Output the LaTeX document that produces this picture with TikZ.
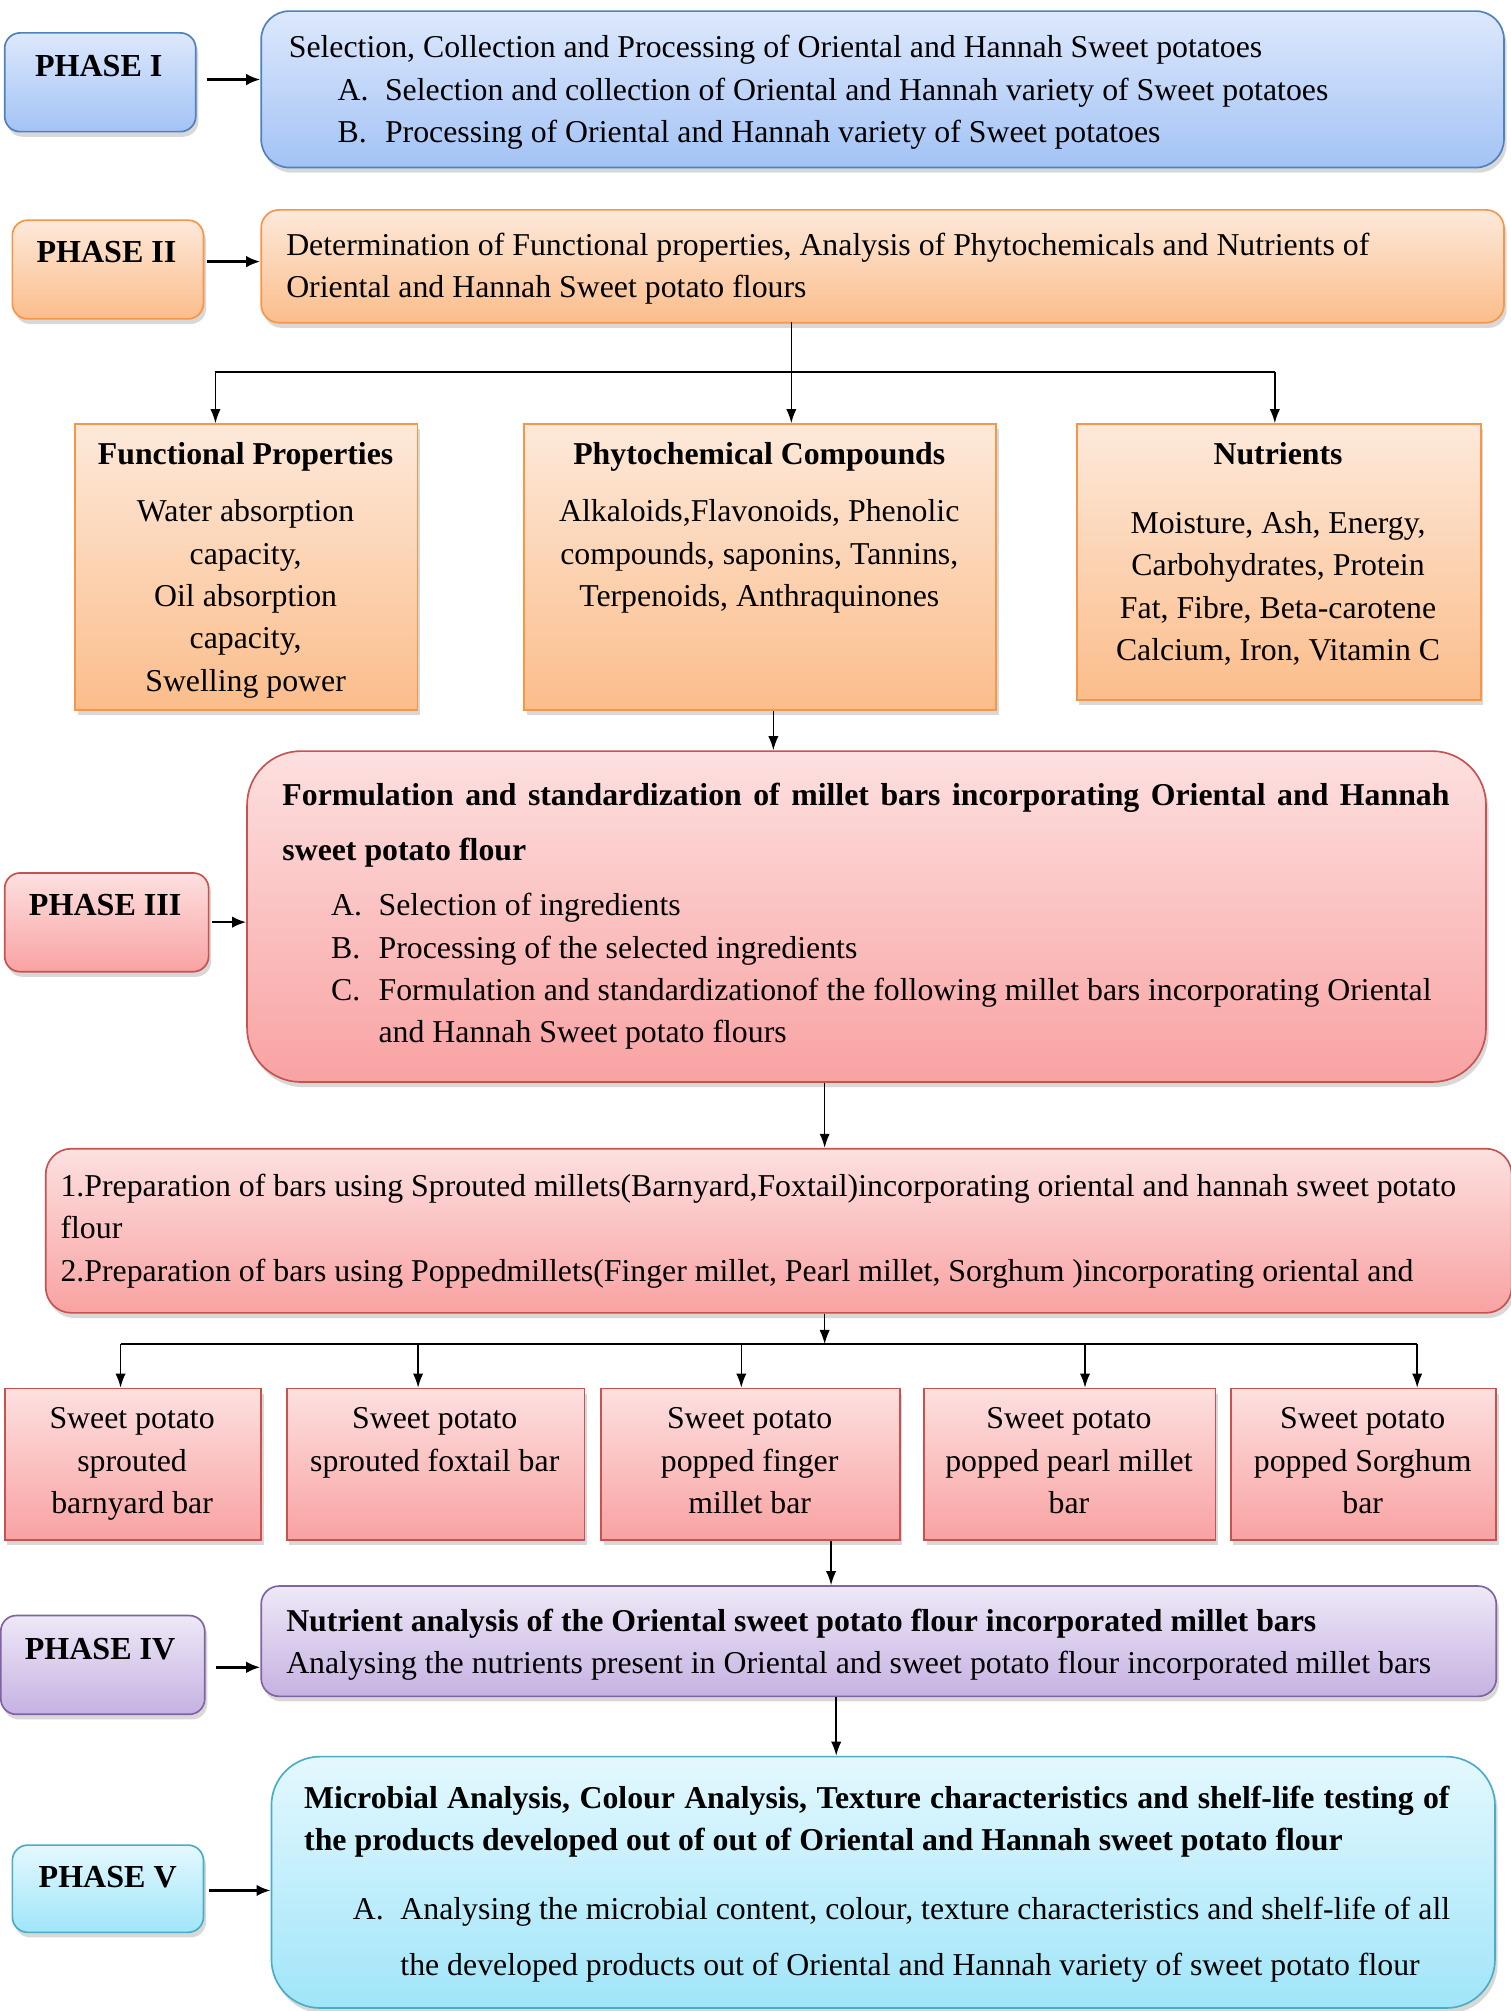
\documentclass[tikz,border=0pt]{standalone}
\usepackage{fontspec}
\setmainfont{Liberation Serif}
\usetikzlibrary{shadows,arrows.meta}
\definecolor{bluetop}{HTML}{DDE8FC}
\definecolor{bluebot}{HTML}{A3C3F5}
\definecolor{blueline}{HTML}{4F81BD}
\definecolor{ortop}{HTML}{FDE9DA}
\definecolor{orbot}{HTML}{FBBD8B}
\definecolor{orline}{HTML}{F79646}
\definecolor{redtop}{HTML}{FDE0E0}
\definecolor{redbot}{HTML}{F9A2A2}
\definecolor{redline}{HTML}{C85250}
\definecolor{purtop}{HTML}{EEE8F7}
\definecolor{purbot}{HTML}{C6B2E2}
\definecolor{purline}{HTML}{8064A2}
\definecolor{cyantop}{HTML}{E4F8FE}
\definecolor{cyanbot}{HTML}{A0E5F9}
\definecolor{cyanline}{HTML}{4BACC6}
\newcommand\bodysize{\fontsize{24.8}{30}\selectfont}
\tikzset{
  boxbase/.style={rectangle, anchor=north west, inner sep=0pt, line width=1.3pt,
    drop shadow={opacity=0.3, shadow xshift=2pt, shadow yshift=-4pt}},
  bluebox/.style={boxbase, draw=blueline, top color=bluetop, bottom color=bluebot},
  orbox/.style={boxbase, draw=orline, top color=ortop, bottom color=orbot},
  redbox/.style={boxbase, draw=redline, top color=redtop, bottom color=redbot},
  purbox/.style={boxbase, draw=purline, top color=purtop, bottom color=purbot},
  cyanbox/.style={boxbase, draw=cyanline, top color=cyantop, bottom color=cyanbot},
  tl/.style={inner sep=0pt, anchor=base west, font=\bodysize},
  tc/.style={inner sep=0pt, anchor=base, font=\bodysize},
  tlb/.style={tl, font=\bodysize\bfseries},
  tcb/.style={tc, font=\bodysize\bfseries},
  phlbl/.style={inner sep=0pt, anchor=base, font=\fontsize{25}{30}\selectfont\bfseries},
  conn/.style={line width=1.2pt, -{Latex[length=11pt,width=8pt]}},
  phconn/.style={line width=2pt, -{Latex[length=11pt,width=9pt]}},
  plain/.style={line width=1.2pt}
}
\begin{document}
\begin{tikzpicture}[x=1pt,y=-1pt]
\useasboundingbox (0,0) rectangle (1178,1568);
\fill[white] (0,0) rectangle (1178,1568);

% ---------- Phase I
\node[bluebox, rounded corners=12pt, minimum width=149pt, minimum height=77pt] (ph1) at (3,25) {};
\node[phlbl] (ph1t) at (77,60) {PHASE I};
\node[bluebox, rounded corners=22pt, minimum width=969pt, minimum height=122pt] (c1) at (203,8) {};
\node[tl] (c1a) at (225,45) {Selection, Collection and Processing of Oriental and Hannah Sweet potatoes};
\node[tl] (c1b) at (263,78) {A.};
\node[tl] (c1c) at (300,78) {Selection and collection of Oriental and Hannah variety of Sweet potatoes};
\node[tl] (c1d) at (263,111) {B.};
\node[tl] (c1e) at (300,111) {Processing of Oriental and Hannah variety of Sweet potatoes};
\draw[phconn] (ph1.east |- 0,62) ++(8,0) coordinate (a1s) -- (c1.west |- a1s);

% ---------- Phase II
\node[orbox, rounded corners=12pt, minimum width=149pt, minimum height=77pt] (ph2) at (9,171) {};
\node[phlbl] (ph2t) at (83,205) {PHASE II};
\node[orbox, rounded corners=14pt, minimum width=969pt, minimum height=88pt] (c2) at (203,163) {};
\node[tl] (c2a) at (223,199) {Determination of Functional properties, Analysis of Phytochemicals and Nutrients of};
\node[tl] (c2b) at (223,232) {Oriental and Hannah Sweet potato flours};
\draw[phconn] (ph2.east |- 0,204) ++(2,0) coordinate (a2s) -- (c2.west |- a2s);

% ---------- three boxes
\node[orbox, minimum width=267pt, minimum height=223pt] (fp) at (58,330) {};
\node[tcb] (fpt) at (191.5,362) {Functional Properties};
\node[tc] (fp1) at (191.5,407) {Water absorption};
\node[tc] (fp2) at (191.5,440) {capacity,};
\node[tc] (fp3) at (191.5,473) {Oil absorption};
\node[tc] (fp4) at (191.5,506) {capacity,};
\node[tc] (fp5) at (191.5,539) {Swelling power};

\node[orbox, minimum width=368pt, minimum height=223pt] (pc) at (408,330) {};
\node[tcb] (pct) at (592,362) {Phytochemical Compounds};
\node[tc] (pc1) at (592,407) {Alkaloids,Flavonoids, Phenolic};
\node[tc] (pc2) at (592,440) {compounds, saponins, Tannins,};
\node[tc] (pc3) at (592,473) {Terpenoids, Anthraquinones};

\node[orbox, minimum width=315pt, minimum height=215pt] (nu) at (839,330) {};
\node[tcb] (nut) at (996.5,362) {Nutrients};
\node[tc] (nu1) at (996.5,416) {Moisture, Ash, Energy,};
\node[tc] (nu2) at (996.5,449) {Carbohydrates, Protein};
\node[tc] (nu3) at (996.5,482) {Fat, Fibre, Beta-carotene};
\node[tc] (nu4) at (996.5,515) {Calcium, Iron, Vitamin C};

\coordinate (s2) at (617,251);
\coordinate (h2) at (617,290);
\draw[plain] (s2) -- (h2);
\draw[plain] (168,290) -- (994,290);
\draw[conn] (168,290) -- (fp.north -| 168,0);
\draw[conn] (h2) -- (pc.north -| 617,0);
\draw[conn] (994,290) -- (nu.north -| 994,0);

% ---------- Phase III
\node[redbox, rounded corners=12pt, minimum width=159pt, minimum height=77pt] (ph3) at (3,680) {};
\node[phlbl] (ph3t) at (82,714) {PHASE III};
\node[redbox, rounded corners=42pt, minimum width=966pt, minimum height=258pt] (c3) at (192,585) {};
\node[tlb] (c3a) at (220,628) {\makebox[910pt][s]{Formulation and standardization of millet bars incorporating Oriental and Hannah}};
\node[tlb] (c3b) at (220,671) {sweet potato flour};
\node[tl] (c3c) at (258,714) {A.};
\node[tl] (c3d) at (295,714) {Selection of ingredients};
\node[tl] (c3e) at (258,747) {B.};
\node[tl] (c3f) at (295,747) {Processing of the selected ingredients};
\node[tl] (c3g) at (258,780) {C.};
\node[tl] (c3h) at (295,780) {Formulation and standardizationof the following millet bars incorporating Oriental};
\node[tl] (c3i) at (295,813) {and Hannah Sweet potato flours};
\draw[conn] (pc.south -| 603,0) -- (c3.north -| 603,0);
\draw[phconn] (ph3.east |- 0,719) ++(2,0) coordinate (a3s) -- (c3.west |- a3s);

% ---------- Preparation box
\node[redbox, rounded corners=20pt, minimum width=1143pt, minimum height=128pt] (pr) at (35,895) {};
\node[tl] (pr1) at (47,933) {1.Preparation of bars using Sprouted millets(Barnyard,Foxtail)incorporating oriental and hannah sweet potato};
\node[tl] (pr2) at (47,966) {flour};
\node[tl] (pr3) at (47,999) {2.Preparation of bars using Poppedmillets(Finger millet, Pearl millet, Sorghum )incorporating oriental and};
\draw[conn] (c3.south -| 643,0) -- (pr.north -| 643,0);

% ---------- bars
\node[redbox, minimum width=200pt, minimum height=118pt] (b1) at (3,1082) {};
\node[redbox, minimum width=232pt, minimum height=118pt] (b2) at (223,1082) {};
\node[redbox, minimum width=233pt, minimum height=118pt] (b3) at (468,1082) {};
\node[redbox, minimum width=227pt, minimum height=118pt] (b4) at (720,1082) {};
\node[redbox, minimum width=207pt, minimum height=118pt] (b5) at (959,1082) {};
\node[tc] (b1a) at (103,1114) {Sweet potato};
\node[tc] (b1b) at (103,1147) {sprouted};
\node[tc] (b1c) at (103,1180) {barnyard bar};
\node[tc] (b2a) at (339,1114) {Sweet potato};
\node[tc] (b2b) at (339,1147) {sprouted foxtail bar};
\node[tc] (b3a) at (584.5,1114) {Sweet potato};
\node[tc] (b3b) at (584.5,1147) {popped finger};
\node[tc] (b3c) at (584.5,1180) {millet bar};
\node[tc] (b4a) at (833.5,1114) {Sweet potato};
\node[tc] (b4b) at (833.5,1147) {popped pearl millet};
\node[tc] (b4c) at (833.5,1180) {bar};
\node[tc] (b5a) at (1062.5,1114) {Sweet potato};
\node[tc] (b5b) at (1062.5,1147) {popped Sorghum};
\node[tc] (b5c) at (1062.5,1180) {bar};

\coordinate (hb) at (643,1048);
\draw[conn] (pr.south -| 643,0) -- (hb);
\draw[plain] (94,1048) -- (1105,1048);
\draw[conn] (94,1048) -- (b1.north -| 94,0);
\draw[conn] (326,1048) -- (b2.north -| 326,0);
\draw[conn] (578,1048) -- (b3.north -| 578,0);
\draw[conn] (846,1048) -- (b4.north -| 846,0);
\draw[conn] (1105,1048) -- (b5.north -| 1105,0);

% ---------- Phase IV
\node[purbox, rounded corners=12pt, minimum width=159pt, minimum height=77pt] (ph4) at (0,1259) {};
\node[phlbl] (ph4t) at (78,1294) {PHASE IV};
\node[purbox, rounded corners=14pt, minimum width=963pt, minimum height=86pt] (c4) at (203,1236) {};
\node[tlb] (c4a) at (223,1272) {Nutrient analysis of the Oriental sweet potato flour incorporated millet bars};
\node[tl] (c4b) at (223,1305) {Analysing the nutrients present in Oriental and sweet potato flour incorporated millet bars};
\draw[conn] (b3.south -| 648,0) -- (c4.north -| 648,0);
\draw[phconn] (ph4.east |- 0,1300) ++(8,0) coordinate (a4s) -- (c4.west |- a4s);

% ---------- Phase V
\node[cyanbox, rounded corners=12pt, minimum width=149pt, minimum height=68pt] (ph5) at (9,1438) {};
\node[phlbl] (ph5t) at (84,1472) {PHASE V};
\node[cyanbox, rounded corners=38pt, minimum width=954pt, minimum height=196pt] (c5) at (211,1369) {};
\node[tlb] (c5a) at (237,1410) {\makebox[893pt][s]{Microbial Analysis, Colour Analysis, Texture characteristics and shelf-life testing of}};
\node[tlb] (c5b) at (237,1443) {the products developed out of out of Oriental and Hannah sweet potato flour};
\node[tl] (c5c) at (275,1497) {A.};
\node[tl] (c5d) at (312,1497) {Analysing the microbial content, colour, texture characteristics and shelf-life of all};
\node[tl] (c5e) at (312,1540) {the developed products out of Oriental and Hannah variety of sweet potato flour};
\draw[conn] (c4.south -| 652,0) -- (c5.north -| 652,0);
\draw[phconn] (ph5.east |- 0,1474) ++(4,0) coordinate (a5s) -- (c5.west |- a5s);
\end{tikzpicture}
\end{document}
